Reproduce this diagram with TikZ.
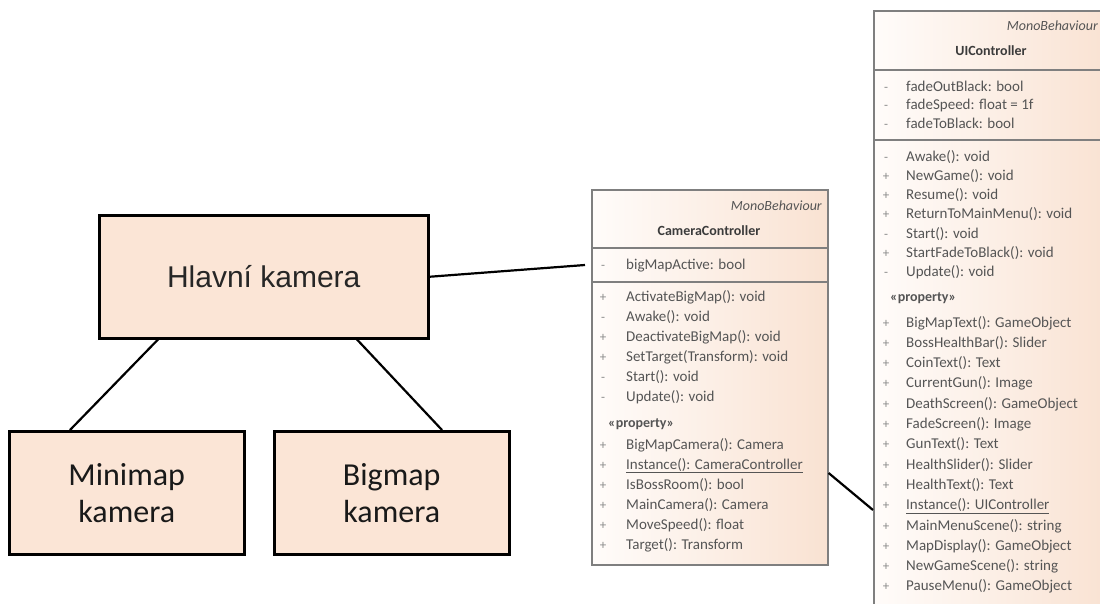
\documentclass[tikz,border=0pt]{standalone}
\usepackage{fontspec}
\setmainfont{Carlito}
\newfontfamily\arialf{Liberation Sans}
\usetikzlibrary{calc}
\definecolor{peach}{HTML}{FBE5D6}
\definecolor{umlpeach}{HTML}{F9E2D2}
\definecolor{umlwhite}{HTML}{FFFCFA}
\definecolor{umlgrey}{HTML}{7F7F7F}
\definecolor{umltext}{HTML}{555555}
\definecolor{umlvis}{HTML}{8A8A8A}
\begin{document}
\begin{tikzpicture}[x=1pt,y=-1pt,
  plainbox/.style={draw=black, line width=2.5pt, fill=peach, inner sep=0pt, anchor=north west},
  umlbox/.style={draw=umlgrey, line width=1.6pt, left color=umlwhite, right color=umlpeach, inner sep=0pt, anchor=north west},
  sepline/.style={draw=umlgrey, line width=1.6pt},
  link/.style={draw=black, line width=2.2pt},
  row/.style={anchor=base west, inner sep=0pt, font=\fontsize{15}{17}\selectfont, text=umltext},
  vis/.style={anchor=base, inner sep=0pt, font=\fontsize{13}{15}\selectfont, text=umlvis},
  stereo/.style={anchor=base east, inner sep=0pt, font=\itshape\fontsize{14}{16}\selectfont, text=umltext},
  title/.style={anchor=base, inner sep=0pt, font=\bfseries\fontsize{14}{16}\selectfont, text=umltext!70!black},
  prop/.style={anchor=base west, inner sep=0pt, font=\bfseries\fontsize{14}{16}\selectfont, text=umltext},
  bigtext/.style={font=\arialf\fontsize{30}{34}\selectfont, text=black!85},
  camtext/.style={font=\fontsize{32}{37}\selectfont, text=black!90, align=center}
]
\useasboundingbox (0,0) rectangle (1100,603);
\begin{scope}
\clip (0,0) rectangle (1100,603);
% left boxes
\node[plainbox, minimum width=329pt, minimum height=123pt] (hk) at (98,214) {};
\node[bigtext] (hkt) at (hk.center) {Hlavní kamera};
\node[plainbox, minimum width=235pt, minimum height=123pt] (mm) at (8,430) {};
\node[camtext] (mmt) at (mm.center) {Minimap\\kamera};
\node[plainbox, minimum width=235pt, minimum height=123pt] (bm) at (273,430) {};
\node[camtext] (bmt) at (bm.center) {Bigmap\\kamera};

% CameraController
\node[umlbox, minimum width=236pt, minimum height=375pt] (cc) at (591,189) {};
\draw[sepline] ($(cc.north west)+(0,59)$) -- ($(cc.north east)+(0,59)$);
\draw[sepline] ($(cc.north west)+(0,93)$) -- ($(cc.north east)+(0,93)$);
\node[stereo] (ccs) at (822,210) {MonoBehaviour};
\node[title] (cct) at (709,235) {CameraController};
\node[vis] (cc-av) at (603,269) {-};
\node[row] (cc-a) at (626,269) {bigMapActive: bool};
\foreach \v/\t [count=\i from 0] in {+/ActivateBigMap(): void, -/Awake(): void, +/DeactivateBigMap(): void, +/SetTarget(Transform): void, -/Start(): void, -/Update(): void}{
  \node[vis] (cc-mv\i) at (603,301+20*\i) {\v};
  \node[row] (cc-m\i) at (626,301+20*\i) {\t};
}
\node[prop] (cc-p) at (608,427) {«property»};
\foreach \t [count=\i from 0] in {BigMapCamera(): Camera, \underline{Instance(): CameraController}, IsBossRoom(): bool, MainCamera(): Camera, MoveSpeed(): float, Target(): Transform}{
  \node[vis] (cc-pv\i) at (603,449+20*\i) {+};
  \node[row] (cc-p\i) at (626,449+20*\i) {\t};
}

% UIController
\node[umlbox, minimum width=236pt, minimum height=640pt] (ui) at (873,10) {};
\draw[sepline] ($(ui.north west)+(0,60)$) -- ($(ui.north east)+(0,60)$);
\draw[sepline] ($(ui.north west)+(0,130)$) -- ($(ui.north east)+(0,130)$);
\node[stereo] (uis) at (1098,30) {MonoBehaviour};
\node[title] (uit) at (991,55) {UIController};
\foreach \t [count=\i from 0] in {fadeOutBlack: bool, fadeSpeed: float = 1f, fadeToBlack: bool}{
  \node[vis] (ui-av\i) at (886,91+18.5*\i) {-};
  \node[row] (ui-a\i) at (906,91+18.5*\i) {\t};
}
\foreach \v/\t [count=\i from 0] in {-/Awake(): void, +/NewGame(): void, +/Resume(): void, +/ReturnToMainMenu(): void, -/Start(): void, +/StartFadeToBlack(): void, -/Update(): void}{
  \node[vis] (ui-mv\i) at (886,161+19.3*\i) {\v};
  \node[row] (ui-m\i) at (906,161+19.3*\i) {\t};
}
\node[prop] (ui-p) at (890,301) {«property»};
\foreach \t [count=\i from 0] in {BigMapText(): GameObject, BossHealthBar(): Slider, CoinText(): Text, CurrentGun(): Image, DeathScreen(): GameObject, FadeScreen(): Image, GunText(): Text, HealthSlider(): Slider, HealthText(): Text, \underline{Instance(): UIController}, MainMenuScene(): string, MapDisplay(): GameObject, NewGameScene(): string, PauseMenu(): GameObject}{
  \node[vis] (ui-pv\i) at (886,327+20.3*\i) {+};
  \node[row] (ui-p\i) at (906,327+20.3*\i) {\t};
}

% connectors
\draw[link] ($(hk.south west)+(60,0)$) -- ($(mm.north west)+(62,0)$);
\draw[link] ($(hk.south west)+(259,0)$) -- ($(bm.north west)+(169,0)$);
\draw[link] (hk.east) -- ($(cc.north west)+(-6,76)$);
\draw[link] ($(cc.north east)+(0,284)$) -- ($(ui.north west)+(0,500)$);
\end{scope}
\end{tikzpicture}
\end{document}
